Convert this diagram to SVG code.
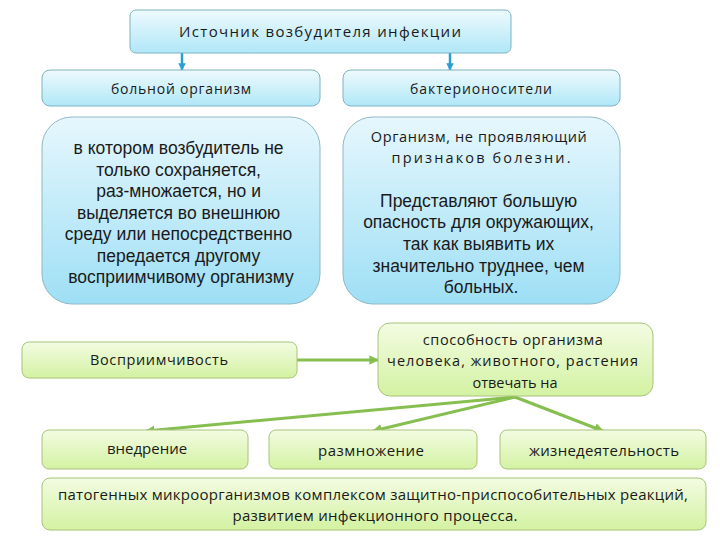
<svg xmlns="http://www.w3.org/2000/svg" width="720" height="540" viewBox="0 0 720 540">
<defs>
<linearGradient id="gBlue" x1="0" y1="0" x2="0" y2="1">
<stop offset="0" stop-color="#eefafd"/><stop offset="1" stop-color="#b0e7f7"/>
</linearGradient>
<linearGradient id="gBlueBig" x1="0" y1="0" x2="0" y2="1">
<stop offset="0" stop-color="#e6f7fd"/><stop offset="1" stop-color="#9edff5"/>
</linearGradient>
<linearGradient id="gGreen" x1="0" y1="0" x2="0" y2="1">
<stop offset="0" stop-color="#f3fce2"/><stop offset="1" stop-color="#d3f2a2"/>
</linearGradient>
<marker id="aBlue" viewBox="0 0 10 10" refX="9" refY="5" markerWidth="3" markerHeight="3" orient="auto">
<path d="M0,0 L10,5 L0,10 z" fill="#2a9fd4"/>
</marker>
<marker id="aGreen" viewBox="0 0 10 10" refX="9" refY="5" markerWidth="3.2" markerHeight="3.2" orient="auto">
<path d="M0,0 L10,5 L0,10 z" fill="#86be4f"/>
</marker>
</defs>
<style>
.bb{fill:url(#gBlue);stroke:#7fb2c2;stroke-width:1}
.bbig{fill:url(#gBlueBig);stroke:#8fb8c4;stroke-width:1}
.gb{fill:url(#gGreen);stroke:#a9c27a;stroke-width:1}
.cal{font-family:"Open Sans","Noto Sans",sans-serif;fill:#1a1a1a;text-anchor:middle}
.ar{font-family:"Liberation Sans",Arial,sans-serif;fill:#1a1a1a;text-anchor:middle}
.cb{stroke:#2a9fd4;stroke-width:2.5;fill:none;marker-end:url(#aBlue)}
.cg{stroke:#86be4f;stroke-width:3;fill:none;marker-end:url(#aGreen)}
</style>
<rect width="720" height="540" fill="#ffffff"/>

<g id="connectors">
<line class="cb" x1="182" y1="53" x2="182" y2="70"/>
<line class="cb" x1="450" y1="53" x2="450" y2="70"/>
<line class="cg" x1="297" y1="360" x2="378" y2="360"/>
<line class="cg" x1="515" y1="397" x2="146" y2="431"/>
<line class="cg" x1="515" y1="397" x2="373" y2="431"/>
<line class="cg" x1="515" y1="397" x2="603" y2="431"/>
</g>

<g id="source">
<rect class="bb" x="130" y="10" width="381" height="43" rx="6"/>
<text class="cal" x="320" y="37" font-size="15" textLength="282" lengthAdjust="spacing">Источник возбудителя инфекции</text>
</g>
<g id="sick">
<rect class="bb" x="42" y="70" width="278" height="36" rx="8"/>
<text class="cal" x="181" y="94" font-size="14" textLength="140" lengthAdjust="spacing">больной организм</text>
</g>
<g id="carriers">
<rect class="bb" x="343" y="70" width="277" height="36" rx="8"/>
<text class="cal" x="481" y="94" font-size="14" textLength="142" lengthAdjust="spacing">бактерионосители</text>
</g>
<g id="sick-desc">
<rect class="bbig" x="42" y="117" width="278" height="187" rx="30"/>
<text class="ar" font-size="17.5">
<tspan x="181" y="154">в котором возбудитель не</tspan>
<tspan x="181" y="176">только сохраняется,</tspan>
<tspan x="181" y="197">раз-множается, но и</tspan>
<tspan x="181" y="219">выделяется во внешнюю</tspan>
<tspan x="181" y="240">среду или непосредственно</tspan>
<tspan x="181" y="262">передается другому</tspan>
<tspan x="181" y="283">восприимчивому организму</tspan>
</text>
</g>
<g id="carriers-desc">
<rect class="bbig" x="343" y="117" width="277" height="187" rx="30"/>
<text class="cal" font-size="14.5">
<tspan x="481" y="142" textLength="216" lengthAdjust="spacing">Организм, не проявляющий</tspan>
<tspan x="481" y="163" textLength="179" lengthAdjust="spacing">признаков болезни.</tspan>
</text>
<text class="ar" font-size="17.5">
<tspan x="481" y="207">Представляют большую</tspan>
<tspan x="481" y="228">опасность для окружающих,</tspan>
<tspan x="481" y="250">так как выявить их</tspan>
<tspan x="481" y="272">значительно труднее, чем</tspan>
<tspan x="481" y="293">больных.</tspan>
</text>
</g>
<g id="susceptibility">
<rect class="gb" x="22" y="342" width="275" height="36" rx="7"/>
<text class="cal" x="159" y="365" font-size="14.5" textLength="138" lengthAdjust="spacing">Восприимчивость</text>
</g>
<g id="ability">
<rect class="gb" x="378" y="323" width="275" height="73" rx="12"/>
<text class="cal" font-size="14.5">
<tspan x="515" y="345" textLength="180" lengthAdjust="spacing">способность организма</tspan>
<tspan x="515" y="366" textLength="251" lengthAdjust="spacing">человека, животного, растения</tspan>
<tspan x="515" y="388" textLength="85" lengthAdjust="spacing">отвечать на</tspan>
</text>
</g>
<g id="invasion">
<rect class="gb" x="42" y="430" width="206" height="39" rx="7"/>
<text class="cal" x="147" y="454" font-size="15">внедрение</text>
</g>
<g id="reproduction">
<rect class="gb" x="269" y="430" width="208" height="39" rx="7"/>
<text class="cal" x="371" y="456" font-size="15" textLength="106" lengthAdjust="spacing">размножение</text>
</g>
<g id="vital">
<rect class="gb" x="500" y="430" width="206" height="39" rx="7"/>
<text class="cal" x="604" y="456" font-size="15" textLength="150" lengthAdjust="spacing">жизнедеятельность</text>
</g>
<g id="pathogens">
<rect class="gb" x="42" y="478" width="664" height="52" rx="8"/>
<text class="cal" font-size="15">
<tspan x="375" y="500" textLength="630" lengthAdjust="spacing">патогенных микроорганизмов комплексом защитно-приспособительных реакций,</tspan>
<tspan x="375" y="521" textLength="285" lengthAdjust="spacing">развитием инфекционного процесса.</tspan>
</text>
</g>
</svg>
